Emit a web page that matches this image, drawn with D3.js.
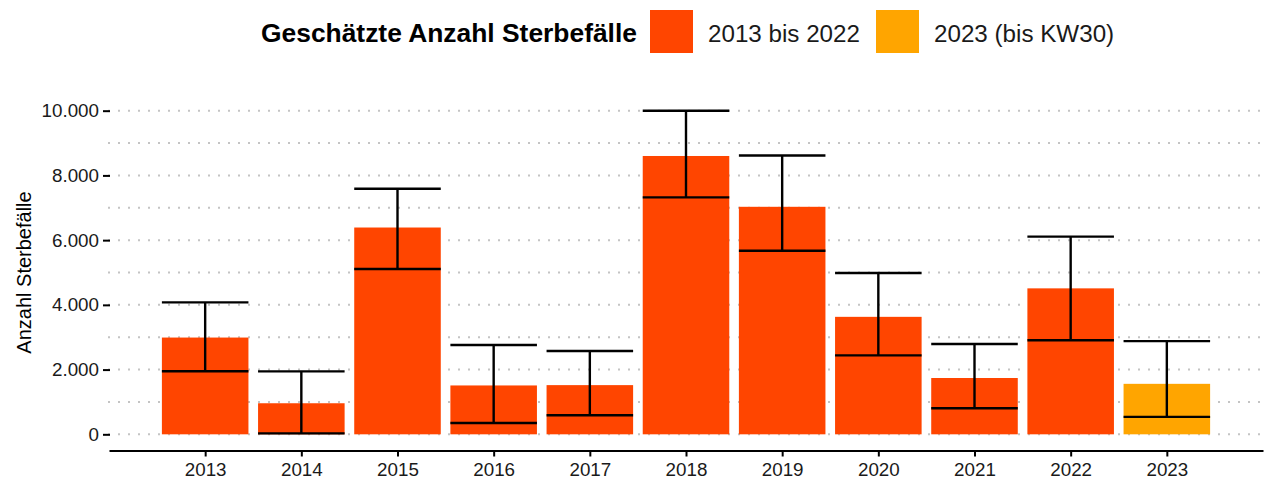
<!DOCTYPE html>
<html>
<head>
<meta charset="utf-8">
<script src="https://cdn.jsdelivr.net/npm/d3@7"></script>
<style>
    body { margin: 0; background: white; }
    svg { display: block; font-family: "Liberation Sans", Arial, sans-serif; }
</style>
</head>
<body>
<div id="canvas"></div>
<script>
"use strict"

/* Canvas size */
let svgWidth = 1272;
let svgHeight = 480;

/* Panel edges */
let panelLeft = 109
let panelRight = 1263
let panelTop = 94.5
let panelBottom = 450.5

/* Data */
let years = ["2013", "2014", "2015", "2016", "2017", "2018", "2019", "2020", "2021", "2022", "2023"]
let deaths = [2990, 960, 6390, 1510, 1520, 8600, 7030, 3630, 1740, 4510, 1560]
let lowerBound = [1950, 30, 5110, 350, 590, 7320, 5670, 2440, 805, 2905, 540]
let upperBound = [4076, 1945, 7590, 2760, 2575, 10000, 8615, 4985, 2790, 6110, 2880]
let groups = ["2013 bis 2022", "2013 bis 2022", "2013 bis 2022", "2013 bis 2022", "2013 bis 2022",
    "2013 bis 2022", "2013 bis 2022", "2013 bis 2022", "2013 bis 2022", "2013 bis 2022", "2023 (bis KW30)"]

let legendLabels = ["2013 bis 2022", "2023 (bis KW30)"]
let legendColors = ["#FF4500", "#FFA500"]
let yTicks = [0, 2000, 4000, 6000, 8000, 10000]
let gridValues = [0, 1000, 2000, 3000, 4000, 5000, 6000, 7000, 8000, 9000, 10000]

/* German number format: 10.000 */
let deFormat = d3.formatLocale({ decimal: ",", thousands: ".", grouping: [3], currency: ["", " €"] }).format(",")

let svg = d3.select("#canvas")
    .append("svg")
    .attr("width", svgWidth)
    .attr("height", svgHeight);

/* Scales */
let xScale = d3.scalePoint()
    .domain(years)
    .range([panelLeft, panelRight])
    .padding(1);

let barWidth = xScale.step() * 0.9

let yScale = d3.scaleLinear()
    .domain([-500, 10500])
    .range([panelBottom, panelTop]);

let colorScale = d3.scaleOrdinal()
    .domain(legendLabels)
    .range(legendColors);

/* Dotted grid lines */
svg.append("g")
    .selectAll("line")
    .data(gridValues)
    .join("line")
    .attr("x1", panelLeft - 1)
    .attr("x2", panelRight)
    .attr("y1", d => yScale(d))
    .attr("y2", d => yScale(d))
    .attr("stroke", "#c4c4c4")
    .attr("stroke-width", 2)
    .attr("stroke-dasharray", "2 8");

/* Bars */
let rows = years.map(function (year, i) {
    return { year: year, value: deaths[i], low: lowerBound[i], high: upperBound[i], group: groups[i] }
})

svg.append("g")
    .selectAll("rect")
    .data(rows)
    .join("rect")
    .attr("x", d => xScale(d.year) - barWidth / 2)
    .attr("width", barWidth)
    .attr("y", d => yScale(d.value))
    .attr("height", d => yScale(0) - yScale(d.value))
    .attr("fill", d => colorScale(d.group));

/* Error bars */
let errors = svg.append("g")
    .attr("stroke", "black")
    .attr("stroke-width", 2.4);

errors.selectAll(".stem")
    .data(rows)
    .join("line")
    .attr("class", "stem")
    .attr("x1", d => xScale(d.year))
    .attr("x2", d => xScale(d.year))
    .attr("y1", d => yScale(d.low))
    .attr("y2", d => yScale(d.high));

errors.selectAll(".capLow")
    .data(rows)
    .join("line")
    .attr("class", "capLow")
    .attr("x1", d => xScale(d.year) - barWidth / 2)
    .attr("x2", d => xScale(d.year) + barWidth / 2)
    .attr("y1", d => yScale(d.low))
    .attr("y2", d => yScale(d.low));

errors.selectAll(".capHigh")
    .data(rows)
    .join("line")
    .attr("class", "capHigh")
    .attr("x1", d => xScale(d.year) - barWidth / 2)
    .attr("x2", d => xScale(d.year) + barWidth / 2)
    .attr("y1", d => yScale(d.high))
    .attr("y2", d => yScale(d.high));

/* Y axis: ticks only, no line */
let yAxis = svg.append("g")
    .attr("transform", "translate(" + (panelLeft + 1) + ",0)")
    .call(d3.axisLeft(yScale).tickValues(yTicks).tickFormat(deFormat).tickSize(7).tickPadding(4));

yAxis.select(".domain").remove();
yAxis.selectAll(".tick line").attr("stroke", "black").attr("stroke-width", 2);
yAxis.selectAll(".tick text")
    .attr("fill", "#1a1a1a")
    .style("font-size", "18.8px")
    .style("font-family", "Liberation Sans, Arial, sans-serif");

/* X axis */
let xAxis = svg.append("g")
    .attr("transform", "translate(0," + panelBottom + ")")
    .call(d3.axisBottom(xScale).tickSize(6).tickSizeOuter(0).tickPadding(6));

xAxis.select(".domain").attr("stroke", "black").attr("stroke-width", 2);
xAxis.selectAll(".tick line").attr("stroke", "black").attr("stroke-width", 2);
xAxis.selectAll(".tick text")
    .attr("fill", "#1a1a1a")
    .style("font-size", "18.8px")
    .style("font-family", "Liberation Sans, Arial, sans-serif");

/* Y axis title */
svg.append("text")
    .attr("transform", "translate(31," + ((panelTop + panelBottom) / 2) + ") rotate(-90)")
    .style("text-anchor", "middle")
    .style("font-size", "20px")
    .attr("fill", "black")
    .text("Anzahl Sterbefälle");

/* Legend on top */
svg.append("text")
    .attr("x", 261)
    .attr("y", 42)
    .style("font-size", "26.4px")
    .style("font-weight", "bold")
    .attr("fill", "black")
    .text("Geschätzte Anzahl Sterbefälle");

let legendX = [650, 876]
for (let i = 0; i < legendLabels.length; i++) {
    svg.append("rect")
        .attr("x", legendX[i])
        .attr("y", 10)
        .attr("width", 43)
        .attr("height", 43)
        .attr("fill", legendColors[i]);

    svg.append("text")
        .attr("x", legendX[i] + 58)
        .attr("y", 42)
        .style("font-size", "24.2px")
        .attr("fill", "#1a1a1a")
        .text(legendLabels[i]);
}
</script>
</body>
</html>
